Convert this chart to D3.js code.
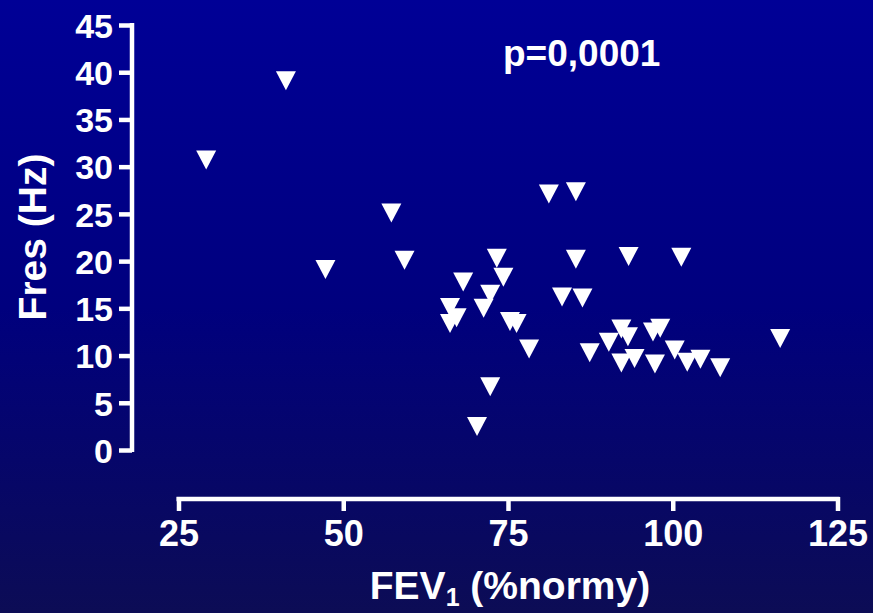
<!DOCTYPE html>
<html>
<head>
<meta charset="utf-8">
<script src="https://cdn.jsdelivr.net/npm/d3@7"></script>
<style>
  html, body { margin: 0; padding: 0; background: #00007e; }
  svg { display: block; }
  text { font-family: "Liberation Sans", Arial, sans-serif; font-weight: bold; fill: #ffffff; }
</style>
</head>
<body>
<svg id="chart" width="873" height="613"></svg>
<script>
// ---- data ----
const fev1 = [29.2, 41.3, 47.3, 57.3, 59.3, 66.2, 67.2, 66.2, 68.2, 71.3, 72.3, 73.3, 74.3, 75.3, 76.3, 72.3, 70.3, 78.2,
              81.2, 85.3, 85.3, 83.2, 86.3, 87.4, 90.3, 92.2, 93.2, 92.2, 94.2, 93.3, 97.0, 98.1, 97.3, 100.3, 101.3,
              102.2, 104.2, 107.2, 116.3];
const fres = [30.7, 39.1, 19.1, 25.1, 20.1, 15.1, 14.0, 13.4, 17.8, 15.0, 16.5, 20.3, 18.3, 13.6, 13.4, 6.7, 2.5, 10.7,
              27.1, 27.35, 20.2, 16.2, 16.1, 10.3, 11.4, 12.8, 12.0, 9.2, 9.7, 20.5, 12.5, 12.9, 9.1, 10.6, 20.4,
              9.3, 9.6, 8.7, 11.8];
const xTicks = [25, 50, 75, 100, 125];
const yTicks = [0, 5, 10, 15, 20, 25, 30, 35, 40, 45];
const xTitle = "FEV";
const xTitleSub = "1";
const xTitleRest = " (%normy)";
const yTitle = "Fres (Hz)";
const pText = "p=0,0001";

// ---- drawing ----
const svg = d3.select("#chart");
const W = 873, H = 613;

const defs = svg.append("defs");
const grad = defs.append("linearGradient").attr("id", "bg").attr("x1", 0).attr("y1", 0).attr("x2", 0).attr("y2", 1);
grad.append("stop").attr("offset", "0%").attr("stop-color", "#000096");
grad.append("stop").attr("offset", "50%").attr("stop-color", "#00007e");
grad.append("stop").attr("offset", "100%").attr("stop-color", "#0c0c55");
svg.append("rect").attr("width", W).attr("height", H).attr("fill", "url(#bg)");

const x = d3.scaleLinear().domain([25, 125]).range([178.5, 837.5]);
const y = d3.scaleLinear().domain([0, 45]).range([450, 25]);

// Y axis
const yAxisX = 132;
const yAxis = d3.axisLeft(y).tickValues(yTicks).tickSize(13).tickPadding(6).tickSizeOuter(0);
const gy = svg.append("g").attr("transform", `translate(${yAxisX},0)`).call(yAxis);
gy.select(".domain").attr("stroke", "#fff").attr("stroke-width", 4.5)
  .attr("d", `M0,${y(45) - 2}V${y(0) + 2}`);
gy.selectAll(".tick line").attr("stroke", "#fff").attr("stroke-width", 4.5);
gy.selectAll(".tick text").attr("font-size", 34).attr("font-family", "Liberation Sans, Arial, sans-serif")
  .attr("font-weight", "bold").attr("fill", "#fff").attr("dy", "0.36em");

// X axis
const xAxisY = 499;
const xAxis = d3.axisBottom(x).tickValues(xTicks).tickSize(12).tickPadding(9).tickSizeOuter(0);
const gx = svg.append("g").attr("transform", `translate(0,${xAxisY})`).call(xAxis);
gx.select(".domain").attr("stroke", "#fff").attr("stroke-width", 4.5)
  .attr("d", `M${x(25) - 2},0H${x(125) + 2}`);
gx.selectAll(".tick line").attr("stroke", "#fff").attr("stroke-width", 4.5).attr("y1", -2);
gx.selectAll(".tick text").attr("font-size", 36).attr("font-family", "Liberation Sans, Arial, sans-serif")
  .attr("font-weight", "bold").attr("fill", "#fff").attr("dy", "0.71em");

// Points (down-pointing triangles)
const pts = fev1.map((v, i) => ({ x: v, y: fres[i] }));
const tri = "M-10,-9.5L10,-9.5L0,9.5Z";
svg.append("g").selectAll("path").data(pts).join("path")
  .attr("d", tri)
  .attr("transform", d => `translate(${x(d.x)},${y(d.y)})`)
  .attr("fill", "#ffffff");

// Titles
svg.append("text").attr("transform", "translate(46,237) rotate(-90)")
  .attr("text-anchor", "middle").attr("font-size", 39).text(yTitle);

const xt = svg.append("text").attr("x", 510).attr("y", 599).attr("text-anchor", "middle").attr("font-size", 39);
xt.append("tspan").text(xTitle);
xt.append("tspan").attr("font-size", 25).attr("dy", 7).text(xTitleSub);
xt.append("tspan").attr("dy", -7).text(xTitleRest);

svg.append("text").attr("x", 503).attr("y", 66).attr("font-size", 37).text(pText);
</script>
</body>
</html>
